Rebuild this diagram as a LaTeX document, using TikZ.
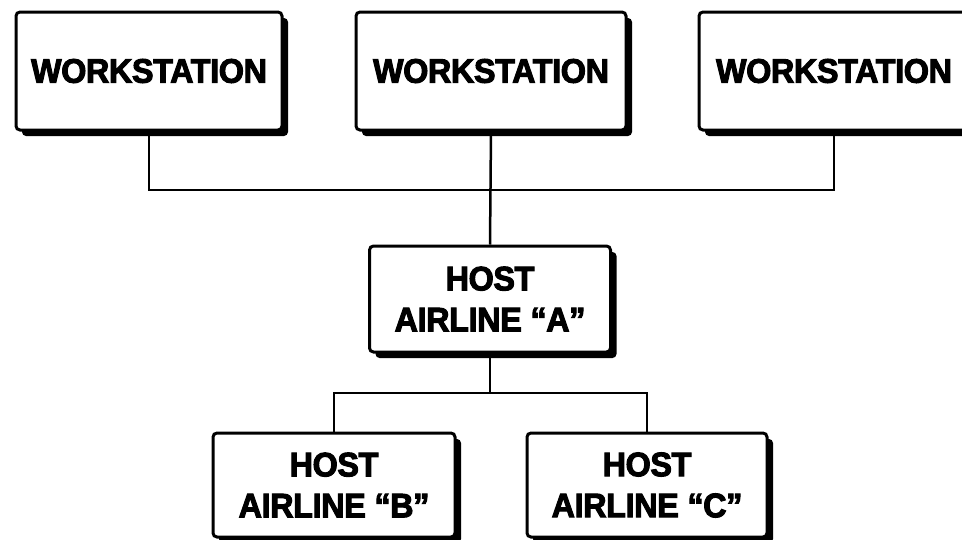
\documentclass[tikz,border=0pt]{standalone}
\usepackage{fontspec}
\newfontfamily\lab[FakeStretch=0.95,FakeBold=3,LetterSpace=-1]{Liberation Sans}
\usetikzlibrary{shadows,backgrounds}
\tikzset{
  box/.style={draw=black, line width=3pt, fill=white, rounded corners=4pt,
    inner sep=0pt, align=center,
    font=\lab\bfseries\fontsize{34}{41}\selectfont,
    drop shadow={shadow xshift=6pt, shadow yshift=-6pt, opacity=1, fill=black}},
  link/.style={draw=black, line width=2.5pt}
}
\begin{document}
\begin{tikzpicture}[x=1pt,y=-1pt]
\useasboundingbox (0,0) rectangle (962,539);
\node[box, minimum width=266pt, minimum height=118pt] (ws1) at (149,71) {WORKSTATION};
\node[box, minimum width=270pt, minimum height=118pt] (ws2) at (491,71) {WORKSTATION};
\node[box, minimum width=270pt, minimum height=118pt] (ws3) at (834,71) {WORKSTATION};
\node[box, minimum width=241pt, minimum height=106pt] (hosta) at (490,299) {HOST\\AIRLINE “A”};
\node[box, minimum width=242pt, minimum height=104pt] (hostb) at (334,485) {HOST\\AIRLINE “B”};
\node[box, minimum width=240pt, minimum height=104pt] (hostc) at (647,485) {HOST\\AIRLINE “C”};
\coordinate (bus1) at (491,190);
\coordinate (bus2) at (490,393);
\begin{scope}[on background layer]
\draw[link] (ws1.south) |- (bus1) -| (ws3.south);
\draw[link] (ws2.south) -- (hosta.north);
\draw[link] (hostb.north) |- (bus2) -| (hostc.north);
\draw[link] (hosta.south) -- (bus2);
\end{scope}
\end{tikzpicture}
\end{document}
